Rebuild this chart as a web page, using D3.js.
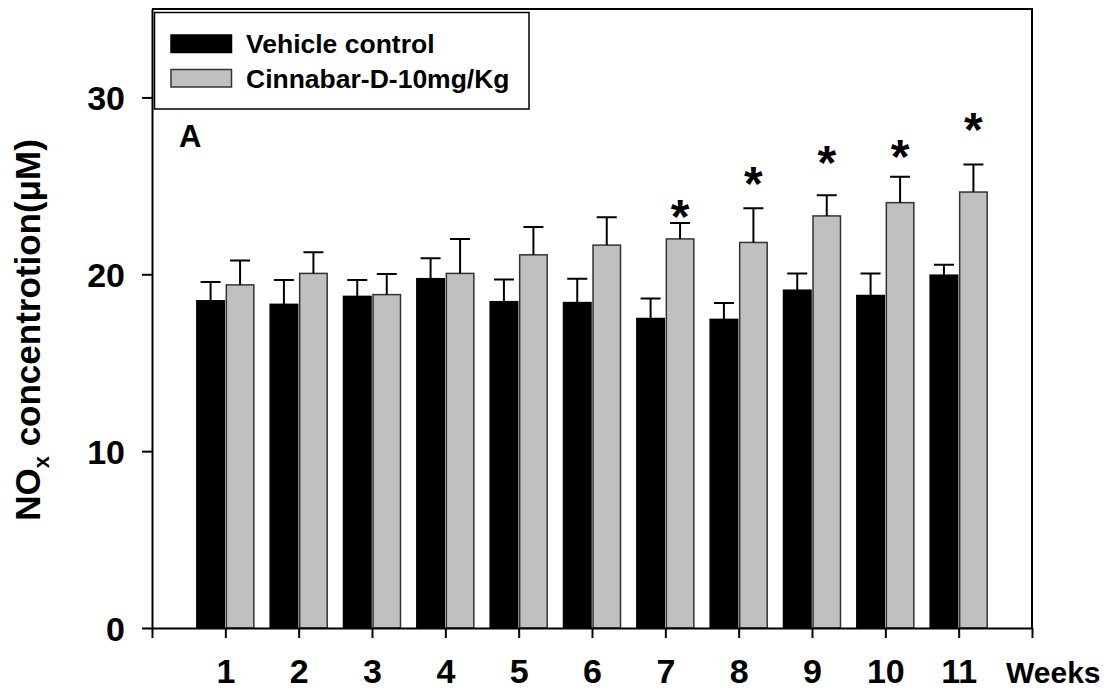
<!DOCTYPE html>
<html>
<head>
<meta charset="utf-8">
<script src="https://cdn.jsdelivr.net/npm/d3@7"></script>
<style>
  body { margin: 0; background: #fff; }
  svg { display: block; font-family: "Liberation Sans", Arial, sans-serif; font-weight: bold; }
</style>
</head>
<body>
<div id="chart"></div>
<script>
// weeks and NOx values (uM)
const weeks = [1, 2, 3, 4, 5, 6, 7, 8, 9, 10, 11];
const control = [18.5, 18.3, 18.75, 19.75, 18.45, 18.4, 17.5, 17.45, 19.1, 18.8, 19.95];
const controlErr = [1.07, 1.38, 0.92, 1.16, 1.26, 1.35, 1.13, 0.92, 0.95, 1.25, 0.59];
const cinnabar = [19.4, 20.05, 18.85, 20.05, 21.1, 21.65, 22.0, 21.8, 23.3, 24.05, 24.65];
const cinnabarErr = [1.38, 1.2, 1.17, 1.95, 1.57, 1.58, 0.9, 1.94, 1.17, 1.47, 1.56];
// significance marks (week, height of the mark centre)
const starWeeks = [7, 8, 9, 10, 11];
const starLevels = [23.85, 25.72, 26.9, 27.23, 28.8];
const seriesNames = ["Vehicle control", "Cinnabar-D-10mg/Kg"];
const yTicks = [0, 10, 20, 30];

const W = 1110, H = 691;
const plotLeft = 152, plotRight = 1032, plotTop = 9, plotBottom = 628;

const svg = d3.select("#chart").append("svg")
    .attr("width", W)
    .attr("height", H);

const x = d3.scaleLinear().domain([0, 12]).range([plotLeft, plotRight]);
const y = d3.scaleLinear().domain([0, 35]).range([plotBottom, plotTop]);

const barW = 27.5;
const gap = 1;

//bars
const g = svg.append("g");

function drawSeries(vals, errs, off, fill, stroke) {
    const rows = weeks.map((w, i) => ({ w: w, v: vals[i], e: errs[i] }));

    g.selectAll(null)
        .data(rows)
        .enter()
        .append("rect")
        .attr("x", d => x(d.w) + off)
        .attr("y", d => y(d.v))
        .attr("width", barW)
        .attr("height", d => y(0) - y(d.v))
        .attr("fill", fill)
        .attr("stroke", stroke)
        .attr("stroke-width", 1.5);

    // error bars, upper side only
    g.selectAll(null)
        .data(rows)
        .enter()
        .append("path")
        .attr("d", d => {
            let cx = x(d.w) + off + barW / 2;
            return "M" + cx + "," + y(d.v) + "V" + y(d.v + d.e) +
                "M" + (cx - 10) + "," + y(d.v + d.e) + "H" + (cx + 10);
        })
        .attr("fill", "none")
        .attr("stroke", "#000")
        .attr("stroke-width", 2);
}

drawSeries(control, controlErr, -barW - gap, "#000", "#000");
drawSeries(cinnabar, cinnabarErr, gap, "#c0c0c0", "#333");

//asterisks
svg.selectAll(".star")
    .data(starWeeks)
    .enter()
    .append("text")
    .attr("class", "star")
    .attr("x", d => x(d) + gap + barW / 2)
    .attr("y", (d, i) => y(starLevels[i]) + 27)
    .attr("text-anchor", "middle")
    .style("font-size", "48px")
    .text("*");

//frame (top and right)
svg.append("path")
    .attr("d", "M" + plotLeft + "," + plotTop + "H" + plotRight + "V" + plotBottom)
    .attr("fill", "none")
    .attr("stroke", "#000")
    .attr("stroke-width", 2);

// x axis
const xAxis = svg.append("g")
    .attr("transform", "translate(0," + plotBottom + ")")
    .call(d3.axisBottom(x)
        .tickValues(d3.range(0, 13))
        .tickSize(10)
        .tickSizeOuter(0)
        .tickFormat(d => (d >= 1 && d <= 11) ? d : ""));

xAxis.select(".domain").attr("stroke-width", 2);
xAxis.selectAll(".tick line").attr("stroke-width", 2);
xAxis.selectAll(".tick text")
    .attr("y", 55)
    .attr("dy", 0)
    .attr("fill", "#000")
    .style("font-size", "34px")
    .style("font-family", "'Liberation Sans', Arial, sans-serif");

svg.append("text")
    .attr("x", 1006)
    .attr("y", 683)
    .style("font-size", "30px")
    .text("Weeks");

// y axis
const yAxis = svg.append("g")
    .attr("transform", "translate(" + plotLeft + ",0)")
    .call(d3.axisLeft(y)
        .tickValues(yTicks)
        .tickSize(10)
        .tickSizeOuter(0));

yAxis.select(".domain").attr("stroke-width", 2);
yAxis.selectAll(".tick line").attr("stroke-width", 2);
yAxis.selectAll(".tick text")
    .attr("x", -27)
    .attr("dy", "0.36em")
    .attr("fill", "#000")
    .style("font-size", "34px")
    .style("font-family", "'Liberation Sans', Arial, sans-serif");

// y title with subscript
const yTitle = svg.append("text")
    .attr("transform", "translate(40,330) rotate(-90)")
    .attr("text-anchor", "middle")
    .style("font-size", "35px");
yTitle.append("tspan").text("NO");
yTitle.append("tspan").attr("dy", 9).style("font-size", "22px").text("x");
yTitle.append("tspan").attr("dy", -9).text(" concentrotion(\u03bcM)");

// panel letter
svg.append("text")
    .attr("x", 179)
    .attr("y", 147)
    .style("font-size", "31px")
    .text("A");

// legend
const legend = svg.append("g");
legend.append("rect")
    .attr("x", 154.5)
    .attr("y", 12.5)
    .attr("width", 374.5)
    .attr("height", 96.5)
    .attr("fill", "#fff")
    .attr("stroke", "#000")
    .attr("stroke-width", 1.5);

const legFill = ["#000", "#c0c0c0"];
const legStroke = ["#000", "#333"];
seriesNames.forEach((name, i) => {
    legend.append("rect")
        .attr("x", 171)
        .attr("y", 35 + i * 34.5)
        .attr("width", 60.5)
        .attr("height", 17.5)
        .attr("fill", legFill[i])
        .attr("stroke", legStroke[i])
        .attr("stroke-width", 1.5);
    legend.append("text")
        .attr("x", 246)
        .attr("y", 53 + i * 34.5)
        .style("font-size", "26.5px")
        .text(name);
});
</script>
</body>
</html>
